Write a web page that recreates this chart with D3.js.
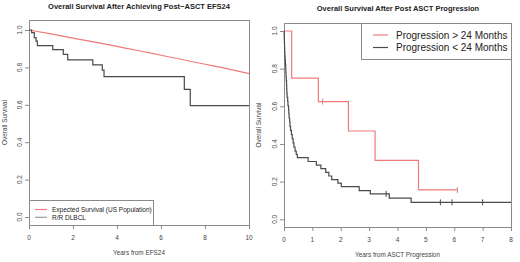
<!DOCTYPE html>
<html>
<head>
<meta charset="utf-8">
<script src="https://cdn.jsdelivr.net/npm/d3@7"></script>
<style>
  body { margin: 0; background: #fff; }
  svg text { font-family: "Liberation Sans", Arial, sans-serif; fill: #444; }
</style>
</head>
<body>
<svg id="chart" width="520" height="262"></svg>
<script>
// left panel: expected survival vs R/R DLBCL
const expectedYears = [0, 1, 2, 3, 4, 5, 6, 7, 8, 9, 10];
const expectedSurv = [1.0, 0.979, 0.957, 0.935, 0.912, 0.889, 0.865, 0.841, 0.817, 0.793, 0.767];
const dlbclTimes = [0, 0.12, 0.24, 0.32, 0.38, 1.08, 1.56, 1.76, 2.9, 3.33, 3.41, 7.06, 7.33, 10];
const dlbclSurv = [1.0, 0.986, 0.959, 0.941, 0.916, 0.895, 0.870, 0.840, 0.813, 0.785, 0.751, 0.682, 0.596, 0.596];

// right panel: progression > 24 months / < 24 months
const lateTimes = [0, 0.27, 1.21, 2.27, 3.21, 4.74, 6.11];
const lateSurv = [1.0, 0.75, 0.625, 0.469, 0.3125, 0.156, 0.156];
const lateCensor = [1.36, 6.11];
const earlyTimes = [0, 0.005, 0.01, 0.015, 0.02, 0.025, 0.03, 0.04, 0.05, 0.06, 0.065, 0.07, 0.08, 0.09, 0.095,
  0.10, 0.11, 0.13, 0.14, 0.16, 0.17, 0.18, 0.20, 0.21, 0.23, 0.26, 0.29, 0.32, 0.35, 0.39, 0.43, 0.47,
  0.85, 1.14, 1.30, 1.47, 1.58, 1.68, 1.90, 2.02, 2.65, 3.04, 3.71, 4.48, 8.0];
const earlySurv = [1.0, 0.978, 0.956, 0.934, 0.912, 0.890, 0.868, 0.846, 0.824, 0.802, 0.780, 0.758, 0.736, 0.714, 0.692,
  0.670, 0.648, 0.626, 0.604, 0.582, 0.560, 0.538, 0.516, 0.494, 0.472, 0.450, 0.428, 0.406, 0.384, 0.362, 0.345, 0.328,
  0.307, 0.288, 0.269, 0.249, 0.230, 0.211, 0.192, 0.173, 0.152, 0.135, 0.112, 0.090, 0.090];
const earlyCensor = [3.6, 5.51, 5.92, 7.0];

const leftXTicks = [0, 2, 4, 6, 8, 10];
const rightXTicks = [0, 1, 2, 3, 4, 5, 6, 7, 8];
const yTicks = [0, 0.2, 0.4, 0.6, 0.8, 1.0];

const svg = d3.select("#chart");
const RED = "#f07a7a";
const DARK = "#4a4a4a";
const GRID = "#8a8a8a";

function drawPanel(p) {
  const x = d3.scaleLinear().domain(p.xDomain).range([p.left, p.right]);
  const y = d3.scaleLinear().domain([0, 1]).range([p.y0, p.y1]);
  const g = svg.append("g");

  g.append("rect")
    .attr("x", p.left + 0.5).attr("y", p.top + 0.5)
    .attr("width", p.right - p.left).attr("height", p.bottom - p.top)
    .attr("fill", "none").attr("stroke", GRID).attr("stroke-width", 1);

  // x axis
  const xa = g.append("g");
  xa.selectAll("line").data(p.xTicks).enter().append("line")
    .attr("x1", d => x(d) + 0.5).attr("x2", d => x(d) + 0.5)
    .attr("y1", p.bottom).attr("y2", p.bottom + 4)
    .attr("stroke", GRID);
  xa.selectAll("text").data(p.xTicks).enter().append("text")
    .attr("x", d => x(d)).attr("y", p.bottom + 15)
    .attr("text-anchor", "middle").style("font-size", "6.5px")
    .text(d => d);
  g.append("text")
    .attr("x", (p.left + p.right) / 2).attr("y", p.xLabelY)
    .attr("text-anchor", "middle").style("font-size", "6.4px")
    .text(p.xLabel);

  // y axis
  const ya = g.append("g");
  ya.selectAll("line").data(yTicks).enter().append("line")
    .attr("x1", p.left - 4).attr("x2", p.left)
    .attr("y1", d => y(d) + 0.5).attr("y2", d => y(d) + 0.5)
    .attr("stroke", GRID);
  ya.selectAll("text").data(yTicks).enter().append("text")
    .attr("transform", d => `translate(${p.left - 7},${y(d)}) rotate(-90)`)
    .attr("text-anchor", "middle").style("font-size", "6.5px")
    .text(d => d.toFixed(1));
  g.append("text")
    .attr("transform", `translate(${p.yLabelX},${(p.top + p.bottom) / 2}) rotate(-90)`)
    .attr("text-anchor", "middle").style("font-size", "6.4px")
    .text("Overall Survival");

  g.append("text")
    .attr("x", p.titleX).attr("y", p.titleY)
    .attr("text-anchor", "middle").style("font-size", "7.5px").style("font-weight", "bold")
    .style("fill", "#222")
    .text(p.title);

  return { g, x, y };
}

function drawCurve(panel, times, surv, color, curve) {
  const line = d3.line()
    .x(d => panel.x(d[0]))
    .y(d => panel.y(d[1]))
    .curve(curve);
  panel.g.append("path")
    .attr("d", line(d3.zip(times, surv)))
    .attr("fill", "none").attr("stroke", color).attr("stroke-width", 1.2);
}

function drawCensor(panel, times, stepTimes, stepSurv, color) {
  panel.g.selectAll(null).data(times).enter().append("line")
    .attr("x1", d => panel.x(d)).attr("x2", d => panel.x(d))
    .attr("y1", d => panel.y(stepSurv[d3.bisectRight(stepTimes, d) - 1]) - 3)
    .attr("y2", d => panel.y(stepSurv[d3.bisectRight(stepTimes, d) - 1]) + 3)
    .attr("stroke", color).attr("stroke-width", 1);
}

function drawLegend(g, box, rows, fontSize) {
  g.append("rect")
    .attr("x", box.x + 0.5).attr("y", box.y + 0.5)
    .attr("width", box.w).attr("height", box.h)
    .attr("fill", "#fff").attr("stroke", GRID);
  rows.forEach(r => {
    g.append("line")
      .attr("x1", box.lx1).attr("x2", box.lx2).attr("y1", r.y).attr("y2", r.y)
      .attr("stroke", r.color).attr("stroke-width", 1.2);
    g.append("text")
      .attr("x", box.tx).attr("y", r.y).attr("dy", "0.35em")
      .style("font-size", fontSize).style("fill", "#222")
      .text(r.label);
  });
}

// left panel
const left = drawPanel({
  xDomain: [0, 10], left: 29, right: 249, top: 20, bottom: 225, y0: 217, y1: 30,
  xTicks: leftXTicks, xLabel: "Years from EFS24", xLabelY: 255, yLabelX: 7,
  title: "Overall Survival After Achieving Post\u2212ASCT EFS24", titleX: 139, titleY: 9
});
drawCurve(left, expectedYears, expectedSurv, RED, d3.curveMonotoneX);
drawCurve(left, dlbclTimes, dlbclSurv, DARK, d3.curveStepAfter);
drawLegend(left.g, { x: 29, y: 200, w: 124, h: 25, lx1: 35, lx2: 47, tx: 52 }, [
  { y: 209.5, color: RED, label: "Expected Survival (US Population)" },
  { y: 217.3, color: "#9a9a9a", label: "R/R DLBCL" }
], "6.5px");

// right panel
const right = drawPanel({
  xDomain: [0, 8], left: 284, right: 511, top: 23, bottom: 227, y0: 219.3, y1: 31,
  xTicks: rightXTicks, xLabel: "Years from ASCT Progression", xLabelY: 257, yLabelX: 261,
  title: "Overall Survival After Post ASCT Progression", titleX: 398, titleY: 11
});
drawCurve(right, lateTimes, lateSurv, RED, d3.curveStepAfter);
drawCensor(right, lateCensor, lateTimes, lateSurv, RED);
drawCurve(right, earlyTimes, earlySurv, DARK, d3.curveStepAfter);
drawCensor(right, earlyCensor, earlyTimes, earlySurv, DARK);
drawLegend(right.g, { x: 361, y: 23, w: 150, h: 36, lx1: 373, lx2: 388, tx: 396 }, [
  { y: 35, color: RED, label: "Progression > 24 Months" },
  { y: 47.5, color: DARK, label: "Progression < 24 Months" }
], "10px");
</script>
</body>
</html>
